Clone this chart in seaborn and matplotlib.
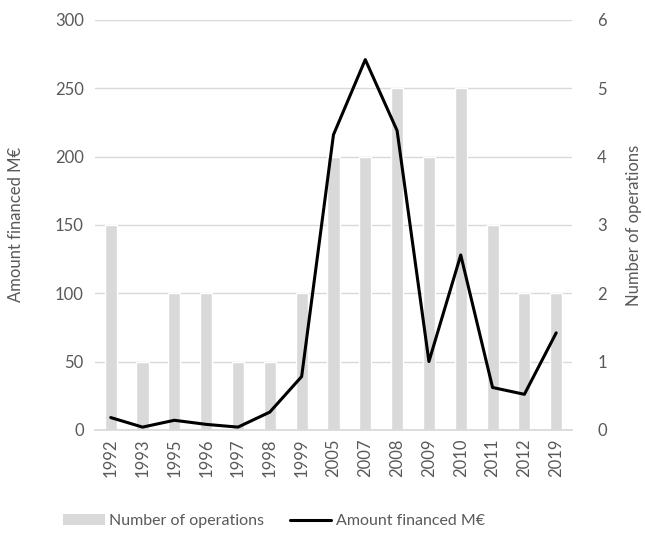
import matplotlib
matplotlib.use("Agg")
import matplotlib.pyplot as plt
from matplotlib.patches import Patch
from matplotlib.lines import Line2D
import seaborn as sns
import pandas as pd

sns.set_theme(style="white")
plt.rcParams["font.family"] = ["Lato", "DejaVu Sans"]

# ── Data ─────────────────────────────────────────────────────
years = ["1992", "1993", "1995", "1996", "1997", "1998", "1999", "2005",
         "2007", "2008", "2009", "2010", "2011", "2012", "2019"]
operations = [3, 1, 2, 2, 1, 1, 2, 4, 4, 5, 4, 5, 3, 2, 2]
amount = [9, 2, 7, 4, 2, 13, 39, 216, 271, 219, 50, 128, 31, 26, 71]

df = pd.DataFrame({"year": years, "ops": operations, "amount": amount})

GREY_TXT = "#595959"
BAR_COL = "#d9d9d9"

fig = plt.figure(figsize=(6.45, 5.4), dpi=100)
ax = fig.add_axes([0.147, 0.204, 0.74, 0.759])
ax2 = ax.twinx()

# bars (number of operations) -> right-hand scale
sns.barplot(data=df, x="year", y="ops", ax=ax, color=BAR_COL, width=0.38,
            saturation=1, zorder=2)
ax.set_ylim(0, 6)
ax.set_yticks(range(0, 7))
ax.set_ylabel("Number of operations", color=GREY_TXT, fontsize=12, labelpad=14)
ax.set_xlabel("")
ax.grid(axis="y", color="#d9d9d9", linewidth=1, zorder=0)
ax.set_axisbelow(True)

# line (amount financed) -> left-hand scale
sns.lineplot(data=df, x="year", y="amount", ax=ax2, color="black",
             linewidth=2.2, sort=False)
ax2.set_ylim(0, 300)
ax2.set_yticks(range(0, 301, 50))
ax2.set_ylabel("Amount financed M€", color=GREY_TXT, fontsize=12, labelpad=22)
ax2.set_xlabel("")

# swap sides: bars' scale on the right, line's scale on the left
ax.yaxis.tick_right()
ax.yaxis.set_label_position("right")
ax2.yaxis.tick_left()
ax2.yaxis.set_label_position("left")

for a in (ax, ax2):
    for s in a.spines.values():
        s.set_visible(False)
    a.tick_params(axis="both", colors=GREY_TXT, labelsize=12, length=0, pad=8)
ax.tick_params(axis="y", pad=18)
ax.spines["bottom"].set_visible(True)
ax.spines["bottom"].set_color("#d9d9d9")
ax.tick_params(axis="x", rotation=90, pad=6)
ax.set_xlim(-0.5, len(years) - 0.5)

handles = [Patch(facecolor=BAR_COL, edgecolor="none"),
           Line2D([0], [0], color="black", linewidth=2.2)]
fig.legend(handles, ["Number of operations", "Amount financed M€"],
           loc="lower center", bbox_to_anchor=(0.425, -0.005), ncol=2,
           frameon=False, fontsize=11.5, labelcolor=GREY_TXT,
           handlelength=2.6, handletextpad=0.3, columnspacing=1.6)

fig.savefig("out.png", dpi=100)
